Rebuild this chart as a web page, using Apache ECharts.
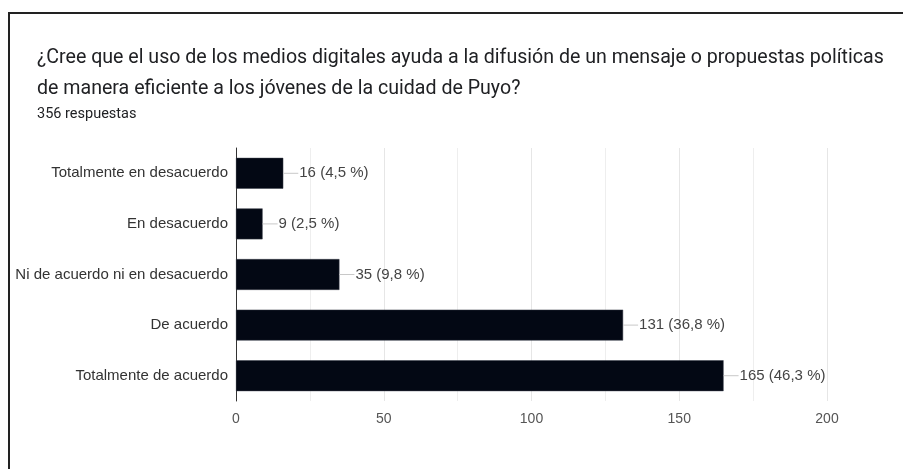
<!DOCTYPE html>
<html>
<head>
<meta charset="utf-8">
<script src="https://cdn.jsdelivr.net/npm/echarts@6/dist/echarts.min.js"></script>
<style>
  html, body { margin: 0; padding: 0; background: #fff; overflow: hidden; }
  #frame {
    position: absolute; left: 8px; top: 12px; width: 893px; height: 455px;
    border-left: 2px solid #222; border-top: 2px solid #222;
  }
  #chart { position: absolute; left: 0; top: 0; width: 905px; height: 469px; }
</style>
</head>
<body>
<div id="frame"></div>
<div id="chart"></div>
<script>
// categorías de respuesta
const categorias = [
  'Totalmente en desacuerdo',
  'En desacuerdo',
  'Ni de acuerdo ni en desacuerdo',
  'De acuerdo',
  'Totalmente de acuerdo'
]
// número de respuestas
const respuestas = [16, 9, 35, 131, 165]
// porcentajes mostrados
const porcentajes = ['4,5', '2,5', '9,8', '36,8', '46,3']

const titulo = '¿Cree que el uso de los medios digitales ayuda a la difusión de un mensaje o propuestas políticas\nde manera eficiente a los jóvenes de la cuidad de Puyo?'
const subtitulo = '356 respuestas'

let myChart = echarts.init(document.getElementById('chart'))
let option = {
  animation: false,
  title: {
    text: titulo,
    subtext: subtitulo,
    left: 32,
    top: 38,
    itemGap: 2,
    textStyle: {
      fontFamily: 'Roboto',
      fontSize: 19.6,
      fontWeight: 'normal',
      color: '#202124',
      lineHeight: 31
    },
    subtextStyle: {
      fontFamily: 'Roboto',
      fontSize: 14.5,
      color: '#202124'
    }
  },
  grid: {
    left: 236,
    right: 78,
    top: 148,
    bottom: 68
  },
  xAxis: {
    type: 'value',
    min: 0,
    max: 200,
    interval: 50,
    axisLine: { show: false },
    axisTick: { show: false },
    axisLabel: {
      color: '#555',
      fontFamily: 'Liberation Sans',
      fontSize: 14,
      margin: 11
    },
    splitLine: { show: true, lineStyle: { color: '#e6e6e6' } },
    minorTick: { show: false, splitNumber: 2 },
    minorSplitLine: { show: true, lineStyle: { color: '#eeeeee' } }
  },
  yAxis: {
    type: 'category',
    inverse: true,
    data: categorias,
    axisLine: { show: true, lineStyle: { color: '#333', width: 1 } },
    axisTick: { show: false },
    axisLabel: {
      color: '#333',
      fontFamily: 'Liberation Sans',
      fontSize: 15,
      margin: 8
    }
  },
  series: [
    {
      type: 'bar',
      data: respuestas,
      barCategoryGap: '39%',
      itemStyle: {
        color: '#030814',
        borderColor: '#3a3f4a',
        borderWidth: 0.5
      },
      label: {
        show: true,
        position: 'right',
        distance: 0,
        formatter: (p) => '{l|}{t|' + p.value + ' (' + porcentajes[p.dataIndex] + ' %)}',
        rich: {
          l: { width: 15, height: 1, backgroundColor: '#c8c8c8' },
          t: {
            color: '#444',
            fontFamily: 'Liberation Sans',
            fontSize: 15,
            padding: [0, 0, 0, 1]
          }
        }
      }
    }
  ]
}
myChart.setOption(option)
</script>
</body>
</html>
